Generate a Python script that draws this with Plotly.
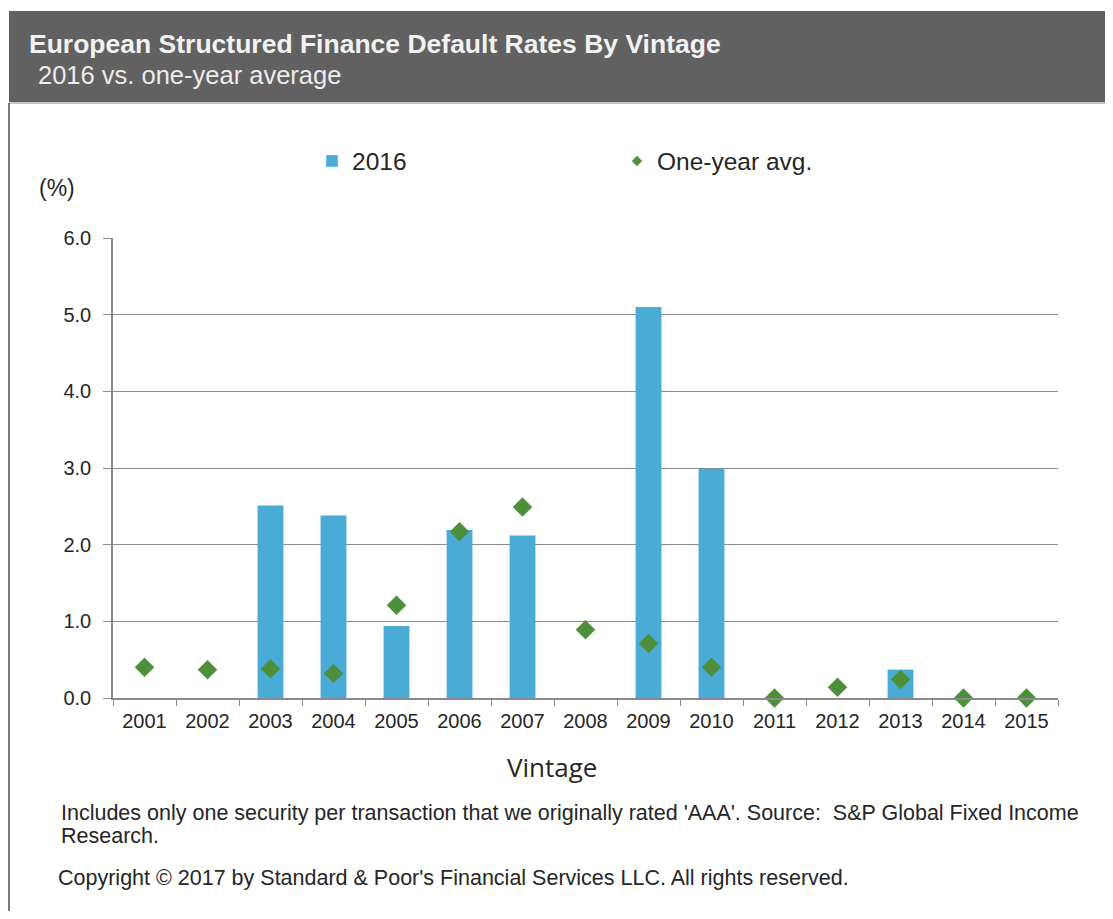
import plotly.graph_objects as go

# chart data
vintages = ['2001', '2002', '2003', '2004', '2005', '2006', '2007', '2008',
            '2009', '2010', '2011', '2012', '2013', '2014', '2015']
rate_2016 = [None, None, 2.51, 2.38, 0.94, 2.19, 2.12, None,
             5.10, 2.99, None, None, 0.37, None, None]
one_year_avg = [0.40, 0.37, 0.38, 0.32, 1.21, 2.17, 2.49, 0.89,
                0.71, 0.40, 0.00, 0.14, 0.24, 0.00, 0.00]
y_ticks = [0, 1, 2, 3, 4, 5, 6]

# page body has an 8px margin; layout coordinates below are in screenshot pixels
OFF = 8
W, H = 1113 - OFF, 919 - 2 * OFF
L, R, T, B = 113, 1058, 238, 698
FONT = 'Arial, Liberation Sans, sans-serif'
BAR_COLOR = '#4aacd6'
DOT_COLOR = '#4e8f3b'
TEXT = '#262626'


def px(x):
    return (x - L) / (R - L)


def py(y):
    return (B - y) / (B - T)


fig = go.Figure()
fig.add_trace(go.Bar(x=vintages, y=rate_2016, name='2016',
                     marker=dict(color=BAR_COLOR, line=dict(width=0)),
                     showlegend=False))
fig.add_trace(go.Scatter(x=vintages, y=one_year_avg, name='One-year avg.',
                         mode='markers', cliponaxis=False,
                         marker=dict(symbol='diamond', size=15, color=DOT_COLOR),
                         showlegend=False))
# legend-only entries with small symbols
fig.add_trace(go.Bar(x=[None], y=[None], name='2016',
                     marker=dict(color=BAR_COLOR)))
fig.add_trace(go.Scatter(x=[None], y=[None], name='One-year avg.', mode='markers',
                         marker=dict(symbol='diamond', size=8, color=DOT_COLOR)))

shapes = [
    dict(type='rect', xref='paper', yref='paper', x0=px(9), x1=px(1120), y0=py(11), y1=py(102),
         fillcolor='#616161', line=dict(width=0), layer='below'),
    dict(type='line', xref='paper', yref='paper', x0=px(9), x1=px(1120), y0=py(103), y1=py(103),
         line=dict(color='#c4c4c4', width=2)),
    dict(type='line', xref='paper', yref='paper', x0=px(9), x1=px(9), y0=py(103), y1=py(919),
         line=dict(color='#7a7a7a', width=2)),
]

annotations = [
    dict(text='<b>European Structured Finance Default Rates By Vintage</b>',
         x=px(27), y=py(44), xanchor='left', yanchor='middle',
         font=dict(size=26.5, color='#f2f2f2')),
    dict(text='2016 vs. one-year average', x=px(36), y=py(75), xanchor='left', yanchor='middle',
         font=dict(size=25.5, color='#ececec')),
    dict(text='(%)', x=px(37), y=py(188), xanchor='left', yanchor='middle',
         font=dict(size=23, color=TEXT)),
    dict(text='Vintage', x=px(552), y=py(767), xanchor='center', yanchor='middle',
         font=dict(size=26, color=TEXT, family='Open Sans, DejaVu Sans')),
    dict(text="Includes only one security per transaction that we originally rated 'AAA'. "
              "Source:  S&P Global Fixed Income",
         x=px(59), y=py(813), xanchor='left', yanchor='middle',
         font=dict(size=21.5, color=TEXT)),
    dict(text='Research.', x=px(59), y=py(836), xanchor='left', yanchor='middle',
         font=dict(size=21.5, color=TEXT)),
    dict(text="Copyright © 2017 by Standard & Poor's Financial Services LLC. All rights reserved.",
         x=px(56), y=py(878), xanchor='left', yanchor='middle',
         font=dict(size=21.5, color=TEXT)),
]
for a in annotations:
    a.update(xref='paper', yref='paper', showarrow=False)

fig.update_layout(
    width=W, height=H,
    margin=dict(l=L - OFF, r=W - (R - OFF), t=T - OFF, b=H - (B - OFF)),
    paper_bgcolor='white', plot_bgcolor='white',
    font=dict(family=FONT, size=20, color=TEXT),
    bargap=0.59,
    showlegend=True,
    legend=dict(orientation='h', x=px(312), y=py(161), xanchor='left', yanchor='middle',
                entrywidth=260, entrywidthmode='pixels', font=dict(size=24.5, color=TEXT),
                bgcolor='rgba(0,0,0,0)', tracegroupgap=0, itemclick=False),
    shapes=shapes,
    annotations=annotations,
)
fig.update_xaxes(type='category', showgrid=False, showline=True, linecolor='#8a8a8a', linewidth=1.5,
                 ticks='outside', ticklen=6, tickcolor='#8a8a8a', tickson='boundaries',
                 tickfont=dict(size=20), ticklabelstandoff=4, range=[-0.5, 14.5])
fig.update_yaxes(range=[0, 6], tickvals=y_ticks, tickformat='.1f', showgrid=True, gridcolor='#8c8c8c',
                 gridwidth=1.3, showline=True, linecolor='#8a8a8a', linewidth=1.5, ticks='outside',
                 ticklen=8, tickcolor='#8a8a8a', tickfont=dict(size=20), ticklabelstandoff=8,
                 zeroline=False)

fig.write_html('out.html')
